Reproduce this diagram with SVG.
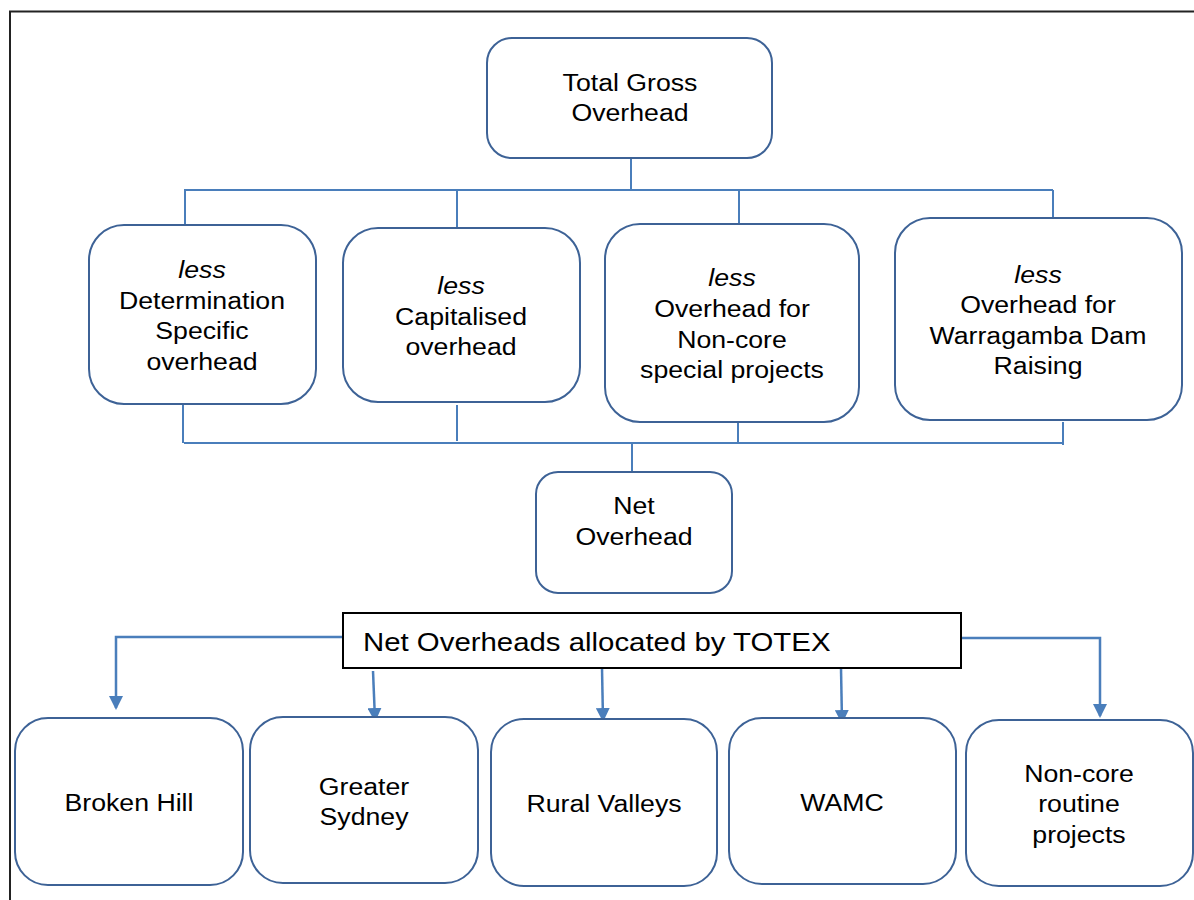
<svg xmlns="http://www.w3.org/2000/svg" width="1194" height="900" viewBox="0 0 1194 900">
<defs>
<style>
.node{fill:#fff;stroke:#3d6296;stroke-width:2}
.t{font-family:"Liberation Sans",Arial,sans-serif;font-size:23px;fill:#000;text-anchor:middle}
.i{font-style:italic}
.c{fill:none;stroke:#4a7ebb;stroke-width:2}
.a{fill:none;stroke:#4a7ebb;stroke-width:2.5}
</style>
<marker id="arr" markerWidth="14" markerHeight="14" refX="12" refY="7" orient="auto" markerUnits="userSpaceOnUse"><path d="M0,0 L14,7 L0,14 Z" fill="#4a7ebb"/></marker>
</defs>
<rect width="1194" height="900" fill="#fff"/>
<g id="frame"><path d="M10,900 V11.5 H1194" fill="none" stroke="#222" stroke-width="2"/></g>
<g id="connectors">
<path class="c" d="M631,158 V190 M184,190 H1053 M185,190 V225 M457,190 V228 M739,190 V224 M1053,190 V218"/>
<path class="c" d="M183,393 V443 M457,405 V441 M738,422 V443 M1063,422 V445 M184,443 H1063 M632,442 V472"/>
<path class="a" d="M343,637 H116 V708" marker-end="url(#arr)"/>
<path class="a" d="M373,671 L375,720" marker-end="url(#arr)"/>
<path class="a" d="M602,668 L603,720" marker-end="url(#arr)"/>
<path class="a" d="M841,668 L842,722" marker-end="url(#arr)"/>
<path class="a" d="M961,638 H1100 V716" marker-end="url(#arr)"/>
</g>
<g id="total"><rect class="node" x="487" y="38" width="285" height="120" rx="25"/><g transform="translate(630 0) scale(1.16 1)"><text class="t" x="0" y="91">Total Gross</text><text class="t" x="0" y="121">Overhead</text></g></g>
<g id="less1"><rect class="node" x="89" y="225" width="227" height="179" rx="35"/><g transform="translate(202 0) scale(1.16 1)"><text class="t i" x="0" y="278">less</text><text class="t" x="0" y="309">Determination</text><text class="t" x="0" y="339">Specific</text><text class="t" x="0" y="370">overhead</text></g></g>
<g id="less2"><rect class="node" x="343" y="228" width="237" height="174" rx="35"/><g transform="translate(461 0) scale(1.16 1)"><text class="t i" x="0" y="294">less</text><text class="t" x="0" y="325">Capitalised</text><text class="t" x="0" y="355">overhead</text></g></g>
<g id="less3"><rect class="node" x="605" y="224" width="254" height="198" rx="35"/><g transform="translate(732 0) scale(1.16 1)"><text class="t i" x="0" y="286">less</text><text class="t" x="0" y="317">Overhead for</text><text class="t" x="0" y="348">Non-core</text><text class="t" x="0" y="378">special projects</text></g></g>
<g id="less4"><rect class="node" x="895" y="218" width="287" height="202" rx="35"/><g transform="translate(1038 0) scale(1.16 1)"><text class="t i" x="0" y="283">less</text><text class="t" x="0" y="313">Overhead for</text><text class="t" x="0" y="344">Warragamba Dam</text><text class="t" x="0" y="374">Raising</text></g></g>
<g id="net"><rect class="node" x="536" y="472" width="196" height="121" rx="22"/><g transform="translate(634 0) scale(1.16 1)"><text class="t" x="0" y="514">Net</text><text class="t" x="0" y="545">Overhead</text></g></g>
<g id="totex"><rect x="343" y="613" width="618" height="55" fill="#fff" stroke="#000" stroke-width="2"/><text x="0" y="651" transform="translate(363 0) scale(1.13 1)" font-family="Liberation Sans, Arial, sans-serif" font-size="26" fill="#000">Net Overheads allocated by TOTEX</text></g>
<g id="broken"><rect class="node" x="15" y="718" width="228" height="167" rx="33"/><g transform="translate(129 0) scale(1.16 1)"><text class="t" x="0" y="811">Broken Hill</text></g></g>
<g id="sydney"><rect class="node" x="250" y="717" width="228" height="166" rx="33"/><g transform="translate(364 0) scale(1.16 1)"><text class="t" x="0" y="795">Greater</text><text class="t" x="0" y="825">Sydney</text></g></g>
<g id="rural"><rect class="node" x="491" y="719" width="226" height="167" rx="33"/><g transform="translate(604 0) scale(1.16 1)"><text class="t" x="0" y="812">Rural Valleys</text></g></g>
<g id="wamc"><rect class="node" x="729" y="718" width="227" height="166" rx="33"/><g transform="translate(842 0) scale(1.16 1)"><text class="t" x="0" y="811">WAMC</text></g></g>
<g id="noncore"><rect class="node" x="966" y="720" width="227" height="166" rx="33"/><g transform="translate(1079 0) scale(1.16 1)"><text class="t" x="0" y="782">Non-core</text><text class="t" x="0" y="812">routine</text><text class="t" x="0" y="843">projects</text></g></g>
</svg>
